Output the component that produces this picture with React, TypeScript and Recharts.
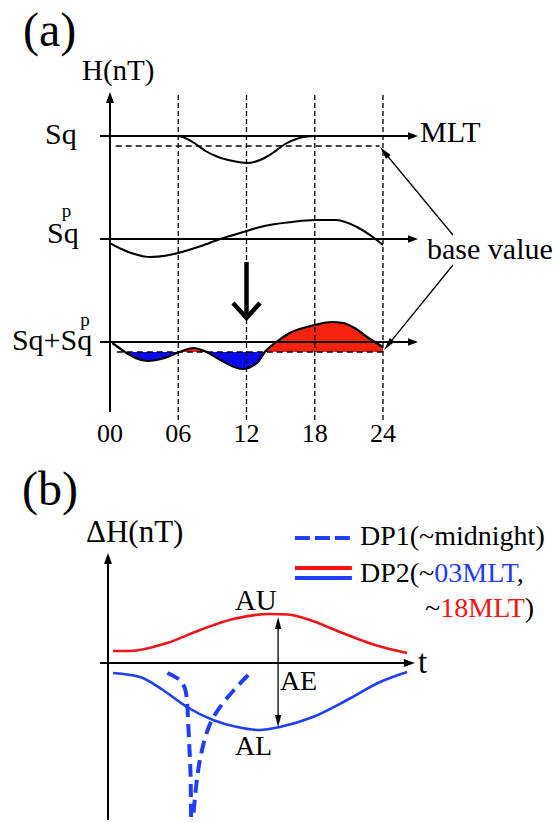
import React from 'react';
import { ComposedChart, Line, Area, XAxis, YAxis, ReferenceLine, ReferenceDot } from 'recharts';

const SERIF = 'Liberation Serif, Times New Roman, Times, DejaVu Serif, serif';
const BLUE = '#1f3ef5';
const RED = '#f21414';
const FILL_BLUE = '#0a0af0';
const FILL_RED = '#f5230e';

// ---- panel (a): H vs MLT ----
const mltTicks = [0, 6, 12, 18, 24];
const guideHours = [6, 12, 18, 24];

const sqLevel = 286;
const sqBase = 276;
const sqpLevel = 183;
const sumLevel = 80;
const sumBase = 70;

const sqHour = [0, 6, 6.6, 7.4, 8.4, 9.5, 10.8, 12, 13.2, 14.3, 15.4, 16.5, 17.3, 18, 24];
const sqH = [286, 286, 284, 279, 271, 265, 261, 259, 262, 269, 278, 283.5, 285.5, 286, 286];

const sqpHour = [0, 1, 2, 3.5, 5, 6, 8, 9.7, 12, 13.2, 16, 18, 19.9, 21.7, 23.1, 24];
const sqpH = [179, 173, 168.5, 165, 166.5, 169, 176, 183, 191, 195, 200, 202, 202, 195, 185, 177];

// start of the combined curve (above the base value, unfilled)
const sumLeadHour = [0.2, 1.3];
const sumLeadH = [79, 70];
const sumHour = [1.3, 3.3, 4.8, 6.1, 7.3, 8.5, 9.7, 11.6, 13.0, 13.6, 14.5, 15.8, 18, 19.5, 20.5, 21.5, 22.6, 24];
const sumH = [70, 61, 64, 70, 74, 70, 62, 53, 60, 70, 79, 89, 97, 100, 99, 94, 85, 75];

// ---- panel (b): ΔH vs t ----
const auT = [1.7, 7.3, 19.7, 30.7, 41.7, 54, 60, 67.3, 77.3, 89, 99.7];
const auH = [12, 12, 20, 33, 44, 49, 48.5, 43, 31, 18, 10];

const alT = [1.7, 10.7, 18.3, 26.3, 35, 43, 50.7, 57.3, 68.3, 79.7, 90.7, 99.7];
const alH = [-10, -14, -27, -44, -57, -64, -67, -64, -54, -37, -19, -9];

const dp1aT = [19.8, 23.5, 25.7, 26.5, 27, 27.5, 27.7];
const dp1aH = [-10, -16, -26, -45, -77, -110, -157];
const dp1bT = [46.7, 41.7, 35, 31.5, 29.7, 28.3];
const dp1bH = [-12, -28, -55, -85, -115, -157];

const aeT = 56.7;
const aeTop = 46;
const aeBottom = -64;

const zip = (xs: number[], ys: number[]) => xs.map((x, i) => ({ x, y: ys[i] }));

const sqData = zip(sqHour, sqH);
const sqpData = zip(sqpHour, sqpH);
const sumLeadData = zip(sumLeadHour, sumLeadH);
const sumData = zip(sumHour, sumH);
const auData = zip(auT, auH);
const alData = zip(alT, alH);
const dp1aData = zip(dp1aT, dp1aH);
const dp1bData = zip(dp1bT, dp1bH);

const sumMax = Math.max(...sumH);
const sumMin = Math.min(...sumH);
const splitOff = (sumMax - sumBase) / (sumMax - sumMin);

type ArrowOpts = {
  color?: string;
  width?: number;
  len?: number;
  half?: number;
  start?: boolean;
  end?: boolean;
  chevron?: boolean;
};

const arrow = (o: ArrowOpts) => (p: any) => {
  const { x1, y1, x2, y2 } = p;
  const color = o.color ?? '#000';
  const w = o.width ?? 2;
  const len = o.len ?? 11;
  const half = o.half ?? 4;
  const head = (tx: number, ty: number, fx: number, fy: number, key: string) => {
    const a = Math.atan2(ty - fy, tx - fx);
    const bx = tx - len * Math.cos(a);
    const by = ty - len * Math.sin(a);
    const nx = -Math.sin(a) * half;
    const ny = Math.cos(a) * half;
    const pts = `${bx + nx},${by + ny} ${tx},${ty} ${bx - nx},${by - ny}`;
    if (o.chevron) {
      return <polyline key={key} points={pts} fill="none" stroke={color} strokeWidth={w} strokeLinejoin="miter" />;
    }
    return <polygon key={key} points={pts} fill={color} stroke="none" />;
  };
  const a = Math.atan2(y2 - y1, x2 - x1);
  const cut = o.chevron ? 1 : len * 0.6;
  const lx1 = o.start ? x1 + cut * Math.cos(a) : x1;
  const ly1 = o.start ? y1 + cut * Math.sin(a) : y1;
  const lx2 = o.end ? x2 - cut * Math.cos(a) : x2;
  const ly2 = o.end ? y2 - cut * Math.sin(a) : y2;
  return (
    <g>
      <line x1={lx1} y1={ly1} x2={lx2} y2={ly2} stroke={color} strokeWidth={w} />
      {o.end && head(x2, y2, x1, y1, 'e')}
      {o.start && head(x1, y1, x2, y2, 's')}
    </g>
  );
};

const txt = (content: React.ReactNode, size: number, anchor: string = 'start') => (p: any) => (
  <text
    x={p.cx}
    y={p.cy}
    textAnchor={anchor}
    fill="#000"
    style={{ fontFamily: SERIF, fontSize: size }}
  >
    {content}
  </text>
);

const PanelA = () => (
  <ComposedChart
    width={556}
    height={460}
    data={sumData}
    margin={{ top: 92, right: 173, bottom: 8, left: 110 }}
  >
    <defs>
      <linearGradient id="sumSplit" x1="0" y1="0" x2="0" y2="1">
        <stop offset={0} stopColor={FILL_RED} />
        <stop offset={splitOff} stopColor={FILL_RED} />
        <stop offset={splitOff} stopColor={FILL_BLUE} />
        <stop offset={1} stopColor={FILL_BLUE} />
      </linearGradient>
    </defs>
    <XAxis
      type="number"
      dataKey="x"
      domain={[0, 24]}
      ticks={mltTicks}
      allowDataOverflow
      axisLine={false}
      tickLine={false}
      tickSize={0}
      tickMargin={2}
      tickFormatter={(v: number) => String(v).padStart(2, '0')}
      tick={{ fill: '#000', fontSize: 26, fontFamily: SERIF, style: { fontFamily: SERIF } }}
    />
    <YAxis type="number" domain={[0, 330]} hide allowDataOverflow />

    {guideHours.map((h) => (
      <ReferenceLine
        key={h}
        segment={[{ x: h, y: 2 }, { x: h, y: 330 }]}
        stroke="#000"
        strokeWidth={1.3}
        strokeDasharray="5 3"
        ifOverflow="visible"
      />
    ))}

    <Area
      dataKey="y"
      type="monotone"
      baseValue={sumBase}
      stroke="#000"
      strokeWidth={2.2}
      fill="url(#sumSplit)"
      fillOpacity={1}
      dot={false}
      activeDot={false}
      isAnimationActive={false}
    />
    <Line data={sumLeadData} dataKey="y" type="monotone" stroke="#000" strokeWidth={2.2} dot={false} activeDot={false} isAnimationActive={false} />

    {/* base values */}
    <ReferenceLine
      segment={[{ x: 0.5, y: sqBase }, { x: 23.7, y: sqBase }]}
      stroke="#000"
      strokeWidth={1.5}
      strokeDasharray="6 4"
      ifOverflow="visible"
    />
    <ReferenceLine
      segment={[{ x: 0.6, y: sumBase }, { x: 24, y: sumBase }]}
      stroke="#000"
      strokeWidth={1.5}
      strokeDasharray="6 4"
      ifOverflow="visible"
    />

    {/* axes */}
    <ReferenceLine
      segment={[{ x: 0, y: 10 }, { x: 0, y: 330 }]}
      ifOverflow="visible"
      shape={arrow({ end: true, width: 2, len: 11, half: 4 })}
    />
    {[sqLevel, sqpLevel, sumLevel].map((lv) => (
      <ReferenceLine
        key={lv}
        segment={[{ x: -0.88, y: lv }, { x: 27.08, y: lv }]}
        ifOverflow="visible"
        shape={arrow({ end: true, width: 1.8, len: 10, half: 3.8 })}
      />
    ))}

    <Line data={sqData} dataKey="y" type="monotone" stroke="#000" strokeWidth={2} dot={false} activeDot={false} isAnimationActive={false} />
    <Line data={sqpData} dataKey="y" type="monotone" stroke="#000" strokeWidth={2} dot={false} activeDot={false} isAnimationActive={false} />

    {/* big arrow */}
    <ReferenceLine
      segment={[{ x: 12, y: 160 }, { x: 12, y: 104 }]}
      ifOverflow="visible"
      shape={arrow({ end: true, chevron: true, width: 4.5, len: 15, half: 13.5 })}
    />

    {/* base value pointers */}
    <ReferenceLine
      segment={[{ x: 30.15, y: 187 }, { x: 23.74, y: 275 }]}
      ifOverflow="visible"
      shape={arrow({ end: true, width: 1.3, len: 13, half: 3 })}
    />
    <ReferenceLine
      segment={[{ x: 30.15, y: 157 }, { x: 24.09, y: 72 }]}
      ifOverflow="visible"
      shape={arrow({ end: true, width: 1.3, len: 13, half: 3 })}
    />

    {/* texts */}
    <ReferenceDot x={-7.65} y={376} ifOverflow="visible" shape={txt('(a)', 48)} />
    <ReferenceDot x={-2.46} y={342} ifOverflow="visible" shape={txt('H(nT)', 29)} />
    <ReferenceDot x={-5.71} y={278} ifOverflow="visible" shape={txt('Sq', 30)} />
    <ReferenceDot
      x={-5.54}
      y={179}
      ifOverflow="visible"
      shape={txt(
        <>
          <tspan>Sq</tspan>
          <tspan dx={-17} dy={-26} style={{ fontSize: 19 }}>p</tspan>
        </>,
        30
      )}
    />
    <ReferenceDot
      x={-8.62}
      y={72}
      ifOverflow="visible"
      shape={txt(
        <>
          <tspan>Sq+Sq</tspan>
          <tspan dx={-12} dy={-24} style={{ fontSize: 19 }}>p</tspan>
        </>,
        30
      )}
    />
    <ReferenceDot x={27.25} y={280} ifOverflow="visible" shape={txt('MLT', 30)} />
    <ReferenceDot x={27.87} y={163} ifOverflow="visible" shape={txt('base value', 30)} />
  </ComposedChart>
);

const PanelB = () => (
  <ComposedChart width={556} height={363} data={auData} margin={{ top: 93, right: 148, bottom: 3, left: 108 }}>
    <XAxis type="number" dataKey="x" domain={[0, 100]} hide allowDataOverflow />
    <YAxis type="number" domain={[-157, 110]} hide allowDataOverflow />

    <ReferenceLine
      segment={[{ x: 0, y: -157 }, { x: 0, y: 110 }]}
      ifOverflow="visible"
      shape={arrow({ end: true, width: 2, len: 11, half: 4 })}
    />
    <ReferenceLine
      segment={[{ x: -2.67, y: 0 }, { x: 102.3, y: 0 }]}
      ifOverflow="visible"
      shape={arrow({ end: true, width: 1.8, len: 11, half: 4 })}
    />

    <Line data={auData} dataKey="y" type="monotone" stroke={RED} strokeWidth={2.6} dot={false} activeDot={false} isAnimationActive={false} />
    <Line data={alData} dataKey="y" type="monotone" stroke={BLUE} strokeWidth={2.6} dot={false} activeDot={false} isAnimationActive={false} />
    <Line data={dp1aData} dataKey="y" type="natural" stroke={BLUE} strokeWidth={4} strokeDasharray="13 7" dot={false} activeDot={false} isAnimationActive={false} />
    <Line data={dp1bData} dataKey="y" type="natural" stroke={BLUE} strokeWidth={4} strokeDasharray="13 7" dot={false} activeDot={false} isAnimationActive={false} />

    <ReferenceLine
      segment={[{ x: aeT, y: aeTop }, { x: aeT, y: aeBottom }]}
      ifOverflow="visible"
      shape={arrow({ start: true, end: true, width: 1.3, len: 12, half: 3.2 })}
    />

    {/* legend */}
    <ReferenceLine
      segment={[{ x: 62.3, y: 125 }, { x: 81.3, y: 125 }]}
      stroke={BLUE}
      strokeWidth={4}
      strokeDasharray="15 5"
      ifOverflow="visible"
    />
    <ReferenceLine segment={[{ x: 62.3, y: 95 }, { x: 81.3, y: 95 }]} stroke={RED} strokeWidth={4} ifOverflow="visible" />
    <ReferenceLine segment={[{ x: 62.3, y: 85 }, { x: 81.3, y: 85 }]} stroke={BLUE} strokeWidth={4} ifOverflow="visible" />
    <ReferenceDot x={84} y={118} ifOverflow="visible" shape={txt('DP1(~midnight)', 28)} />
    <ReferenceDot
      x={84}
      y={81}
      ifOverflow="visible"
      shape={txt(
        <>
          <tspan>DP2(~</tspan>
          <tspan fill={BLUE}>03MLT</tspan>
          <tspan>,</tspan>
        </>,
        28
      )}
    />
    <ReferenceDot
      x={105.7}
      y={46}
      ifOverflow="visible"
      shape={txt(
        <>
          <tspan>~</tspan>
          <tspan fill={RED}>18MLT</tspan>
          <tspan>)</tspan>
        </>,
        28
      )}
    />

    {/* texts */}
    <ReferenceDot x={-28.7} y={158} ifOverflow="visible" shape={txt('(b)', 48)} />
    <ReferenceDot x={-7.33} y={121} ifOverflow="visible" shape={txt('ΔH(nT)', 31)} />
    <ReferenceDot x={42.3} y={53} ifOverflow="visible" shape={txt('AU', 29)} />
    <ReferenceDot x={57.3} y={-27} ifOverflow="visible" shape={txt('AE', 28)} />
    <ReferenceDot x={42.3} y={-92} ifOverflow="visible" shape={txt('AL', 28)} />
    <ReferenceDot x={103.3} y={-10} ifOverflow="visible" shape={txt('t', 33)} />
  </ComposedChart>
);

export default function App() {
  return (
    <div style={{ position: 'absolute', left: 0, top: 0, width: 556, height: 823, background: '#fff', fontFamily: SERIF }}>
      <div style={{ position: 'absolute', left: 0, top: 0 }}>
        <PanelA />
      </div>
      <div style={{ position: 'absolute', left: 0, top: 460 }}>
        <PanelB />
      </div>
    </div>
  );
}
